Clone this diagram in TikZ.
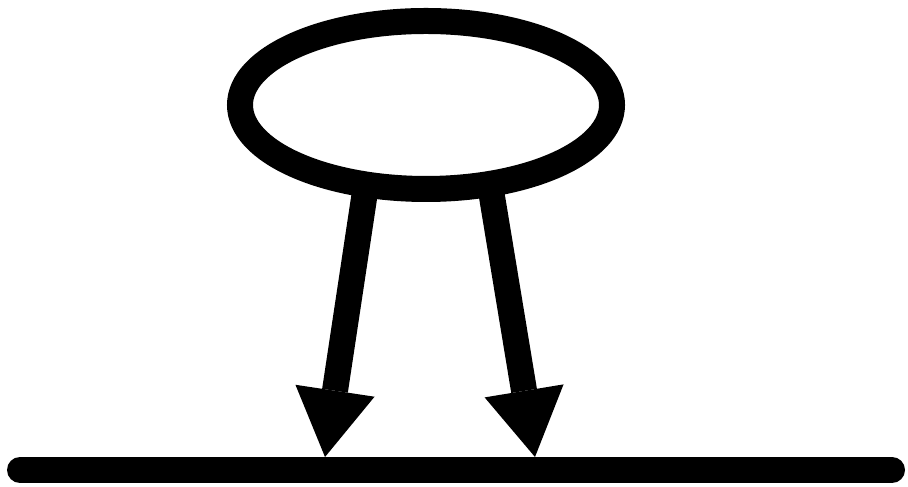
\documentclass[tikz,border=0pt]{standalone}
\usepackage{tikz}
\usetikzlibrary{shapes, arrows.meta}

\begin{document}
\begin{tikzpicture}[scale=1,
  shaft/.style={line width=0.52cm,-{Triangle[length=1.34cm,width=1.6cm,line width=0pt]}},
  ground/.style={line width=0.52cm,line cap=round}]

\useasboundingbox (0,0) rectangle (18.16,9.74);

\node[ellipse,draw,line width=0.52cm,inner sep=0pt,outer sep=0pt,minimum width=7.44cm,minimum height=3.36cm] (e) at (8.52,7.64) {};

\coordinate (l) at (0.40,0.34);
\coordinate (r) at (17.84,0.34);
\coordinate (t1) at (6.50,0.60);
\coordinate (t2) at (10.70,0.60);

\draw[ground] (l) -- (r);

\draw[shaft] (e.233.6) -- (t1);
\draw[shaft] (e.309.6) -- (t2);

\end{tikzpicture}
\end{document}
